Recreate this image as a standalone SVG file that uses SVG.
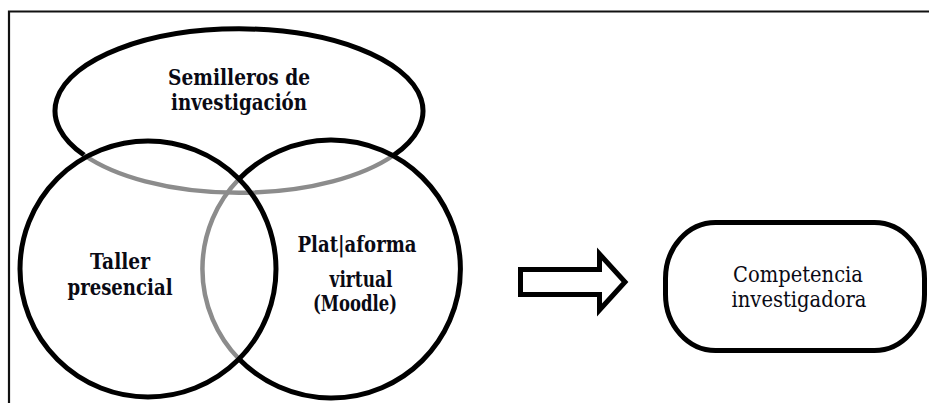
<svg xmlns="http://www.w3.org/2000/svg" width="929" height="403" viewBox="0 0 929 403">
<style>
.blk{fill:none;stroke:#000;stroke-width:5}
.gry{fill:none;stroke:#8c8c8c;stroke-width:4.5}
.frame{fill:none;stroke:#111;stroke-width:2.2}
.b{font-family:'DejaVu Serif',serif;font-weight:700;font-size:22px;fill:#0a0a14;text-anchor:middle}
.r{font-family:'DejaVu Serif',serif;font-weight:400;font-size:22px;fill:#0a0a14;text-anchor:middle}
</style>
<rect width="929" height="403" fill="#fff"/>
<path class="frame" d="M9,403 V11.5 H929"/>
<g id="semilleros">
<path class="gry" d="M84,155 A184,82 0 0 0 394,155"/>
<path class="blk" d="M84,155 A184,82 0 1 1 394,155"/>
<text class="b" x="239" y="85" textLength="142" lengthAdjust="spacingAndGlyphs">Semilleros de</text>
<text class="b" x="239" y="110" textLength="136" lengthAdjust="spacingAndGlyphs">investigación</text>
</g>
<g id="plataforma">
<path class="gry" d="M239,179 A129,129 0 0 0 239,359"/>
<path class="blk" d="M239,179 A129,129 0 1 1 239,359"/>
<text class="b" x="357" y="252" textLength="119" lengthAdjust="spacingAndGlyphs">Plat|aforma</text>
<text class="b" x="361" y="287" textLength="63" lengthAdjust="spacingAndGlyphs">virtual</text>
<text class="b" x="355" y="311" textLength="84" lengthAdjust="spacingAndGlyphs">(Moodle)</text>
</g>
<g id="taller">
<circle class="blk" cx="148" cy="269" r="128"/>
<text class="b" x="120" y="269" textLength="60" lengthAdjust="spacingAndGlyphs">Taller</text>
<text class="b" x="120" y="295" textLength="105" lengthAdjust="spacingAndGlyphs">presencial</text>
</g>
<g id="connectors">
<polygon class="blk" stroke-linejoin="miter" points="520.5,269.5 599.5,269.5 599.5,254 625,282 599.5,310 599.5,294.5 520.5,294.5"/>
</g>
<g id="competencia">
<rect class="blk" x="665.5" y="222.5" width="259" height="128" rx="50" ry="56"/>
<text class="r" x="798" y="282" textLength="130" lengthAdjust="spacingAndGlyphs">Competencia</text>
<text class="r" x="799" y="307" textLength="135" lengthAdjust="spacingAndGlyphs">investigadora</text>
</g>
</svg>
